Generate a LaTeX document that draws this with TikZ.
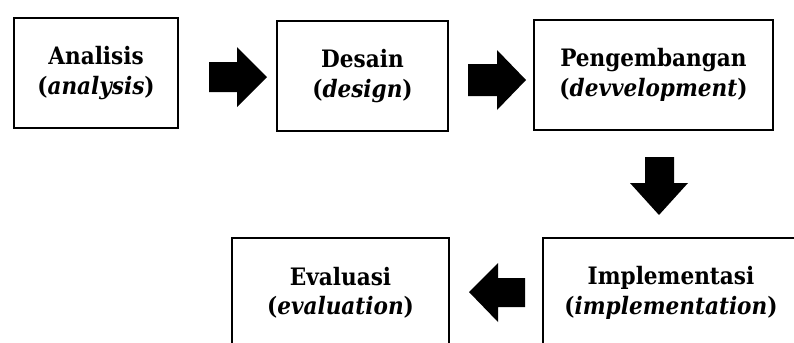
\documentclass[tikz,border=0pt]{standalone}
\usepackage{fontspec}
\setmainfont{DejaVu Serif Condensed}
\tikzset{
  stage/.style={draw, line width=1.4pt, inner sep=0pt, outer sep=0pt, align=center,
    minimum height=82.5pt, font=\bfseries\fontsize{18}{22}\selectfont},
  blockarrow/.style={fill=black}
}
\begin{document}
\begin{tikzpicture}[x=0.75pt, y=-0.75pt]
        \useasboundingbox (0,0) rectangle (794,343);
        % boxes
        \node[stage, minimum width=123pt] (analisis) at (96,73) {Analisis\\(\textit{analysis})};
        \node[stage, minimum width=128.25pt] (desain) at (362.5,76) {Desain\\(\textit{design})};
        \node[stage, minimum width=179.25pt] (pengembangan) at (653.5,75) {Pengembangan\\(\textit{devvelopment})};
        \node[stage, minimum width=192pt] (implementasi) at (671,293) {Implementasi\\(\textit{implementation})};
        \node[stage, minimum width=162.75pt] (evaluasi) at (340.5,293) {Evaluasi\\(\textit{evaluation})};
        % arrows
        \fill[blockarrow] (209,62) -- (237,62) -- (237,47) -- (267,77) -- (237,107) -- (237,92) -- (209,92) -- cycle;
        \fill[blockarrow] (468,64) -- (497,64) -- (497,50) -- (526,80) -- (497,110) -- (497,96) -- (468,96) -- cycle;
        \fill[blockarrow] (645,157) -- (674,157) -- (674,183) -- (688,183) -- (659,215) -- (630,183) -- (645,183) -- cycle;
        \fill[blockarrow] (525,278) -- (525,307) -- (498,307) -- (498,322) -- (469,292) -- (498,263) -- (498,278) -- cycle;
    \end{tikzpicture}
\end{document}
